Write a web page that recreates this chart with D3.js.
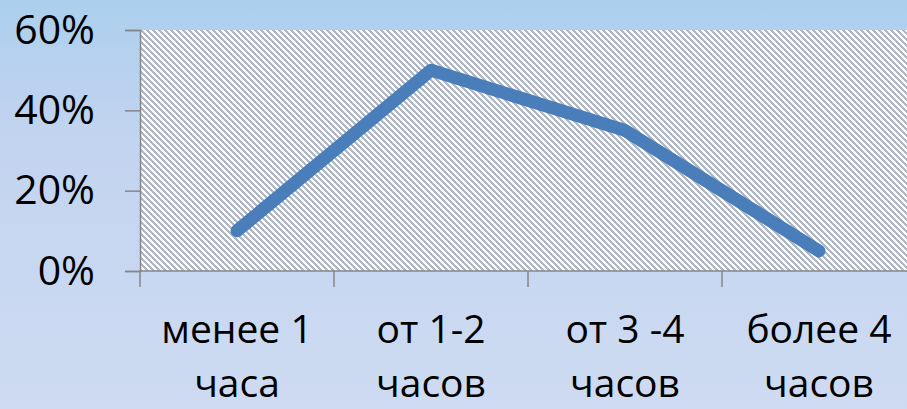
<!DOCTYPE html>
<html>
<head>
<meta charset="utf-8">
<script src="https://cdn.jsdelivr.net/npm/d3@7"></script>
<style>
  html, body { margin: 0; padding: 0; overflow: hidden; }
  svg { display: block; font-family: "Open Sans", sans-serif; }
</style>
</head>
<body>
<svg id="chart" width="907" height="409"></svg>
<script>
const categories = [['менее 1', 'часа'], ['от 1-2', 'часов'], ['от 3 -4', 'часов'], ['более 4', 'часов']]
const values = [0.10, 0.50, 0.35, 0.05]
const yTicks = [0, 0.2, 0.4, 0.6]

const width = 907
const height = 409
const margin = { top: 30, left: 140, plotRight: 916, bottom: 271 }

const svg = d3.select('#chart')
const defs = svg.append('defs')

// background gradient
const grad = defs.append('linearGradient')
  .attr('id', 'bg').attr('x1', 0).attr('y1', 0).attr('x2', 0).attr('y2', 1)
grad.append('stop').attr('offset', '0%').attr('stop-color', '#accfee')
grad.append('stop').attr('offset', '35%').attr('stop-color', '#c3d4f0')
grad.append('stop').attr('offset', '100%').attr('stop-color', '#cedbf2')

// hatch pattern, pixel based like excel "wide downward diagonal"
const tile = 6
const pat = defs.append('pattern')
  .attr('id', 'hatch')
  .attr('patternUnits', 'userSpaceOnUse')
  .attr('x', margin.left).attr('y', margin.top)
  .attr('width', tile).attr('height', tile)
pat.append('rect').attr('width', tile).attr('height', tile).attr('fill', '#ffffff')
d3.range(tile).forEach(r => {
  d3.range(3).forEach(k => {
    pat.append('rect')
      .attr('x', (r + k) % tile).attr('y', r)
      .attr('width', 1).attr('height', 1)
      .attr('fill', '#b0b8c8')
      .attr('shape-rendering', 'crispEdges')
  })
})

svg.append('rect').attr('width', width).attr('height', height).attr('fill', 'url(#bg)')

const xScale = d3.scaleBand()
  .domain(categories.map(d => d[0]))
  .range([margin.left, margin.plotRight])
  .padding(0)

const yScale = d3.scaleLinear()
  .domain([0, 0.6])
  .range([margin.bottom, margin.top])

// plot area
svg.append('rect')
  .attr('x', margin.left)
  .attr('y', margin.top)
  .attr('width', margin.plotRight - margin.left)
  .attr('height', margin.bottom - margin.top)
  .attr('fill', 'url(#hatch)')
  .attr('shape-rendering', 'crispEdges')

// y axis
const yAxisG = svg.append('g')
  .attr('transform', `translate(${margin.left},0)`)
  .call(d3.axisLeft(yScale).tickValues(yTicks).tickFormat(d3.format('.0%')).tickSize(15).tickPadding(30))
yAxisG.select('.domain').attr('stroke', '#868686').attr('stroke-width', 1.5)
yAxisG.selectAll('.tick line').attr('stroke', '#868686').attr('stroke-width', 1.5)
yAxisG.selectAll('.tick text')
  .attr('fill', '#000')
  .style('font-size', '41px')
  .style('font-family', '"Open Sans", sans-serif')

// x axis
const xAxisG = svg.append('g')
xAxisG.append('line')
  .attr('x1', margin.left).attr('x2', margin.plotRight)
  .attr('y1', margin.bottom).attr('y2', margin.bottom)
  .attr('stroke', '#868686').attr('stroke-width', 1.5)
const tickXs = categories.map(d => xScale(d[0])).concat([margin.plotRight])
xAxisG.selectAll('.xtick')
  .data(tickXs)
  .enter()
  .append('line')
  .attr('x1', d => d).attr('x2', d => d)
  .attr('y1', margin.bottom).attr('y2', margin.bottom + 16)
  .attr('stroke', '#868686').attr('stroke-width', 1.5)

const labels = xAxisG.selectAll('.xlabel')
  .data(categories)
  .enter()
  .append('text')
  .attr('text-anchor', 'middle')
  .attr('fill', '#000')
  .style('font-size', '39px')
labels.append('tspan')
  .attr('x', d => xScale(d[0]) + xScale.bandwidth() / 2)
  .attr('y', margin.bottom + 72)
  .text(d => d[0])
labels.append('tspan')
  .attr('x', d => xScale(d[0]) + xScale.bandwidth() / 2)
  .attr('y', margin.bottom + 126)
  .text(d => d[1])

// the line
const line = d3.line()
  .x((d, i) => xScale(categories[i][0]) + xScale.bandwidth() / 2)
  .y(d => yScale(d))

svg.append('path')
  .datum(values)
  .attr('d', line)
  .attr('fill', 'none')
  .attr('stroke', '#4a7ebb')
  .attr('stroke-width', 13)
  .attr('stroke-linecap', 'round')
  .attr('stroke-linejoin', 'round')
</script>
</body>
</html>
